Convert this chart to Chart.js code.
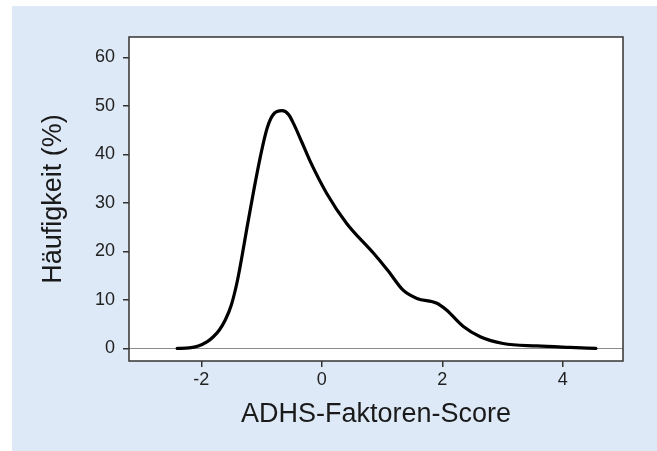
<!DOCTYPE html>
<html>
<head>
<meta charset="utf-8">
<script src="https://cdn.jsdelivr.net/npm/chart.js@4/dist/chart.umd.min.js"></script>
<style>
  html, body { margin: 0; padding: 0; background: #ffffff; }
  canvas { display: block; }
</style>
</head>
<body>
<canvas id="c" width="657" height="451"></canvas>
<script>
// ADHS-Faktoren-Score (x) and Häufigkeit in % (y)
const scoreValues = [-2.40, -2.20, -2.05, -1.90, -1.80, -1.70, -1.60, -1.50, -1.40, -1.32, -1.24, -1.13, -1.02, -0.91, -0.80, -0.66, -0.55, -0.47, -0.33, -0.19, 0.08, 0.41, 0.86, 1.10, 1.35, 1.58, 1.91, 2.07, 2.35, 2.63, 3.01, 3.57, 4.12, 4.55];
const frequencyValues = [0.0, 0.1, 0.5, 1.4, 2.4, 3.8, 5.9, 9.0, 14.0, 19.3, 25.0, 32.5, 39.5, 45.3, 48.3, 49.0, 48.2, 46.4, 42.5, 38.5, 32.0, 25.8, 19.6, 16.0, 12.0, 10.3, 9.3, 7.9, 4.5, 2.4, 1.0, 0.5, 0.2, 0.0];
const xTickValues = [-2, 0, 2, 4];
const yTickValues = [0, 10, 20, 30, 40, 50, 60];

const points = scoreValues.map((x, i) => ({ x: x, y: frequencyValues[i] }));

const FONT = "'Liberation Sans', Arial, Helvetica, sans-serif";

const framePlugin = {
  id: 'frame',
  beforeDraw(chart) {
    const ctx = chart.ctx;
    ctx.save();
    ctx.fillStyle = '#ffffff';
    ctx.fillRect(0, 0, chart.width, chart.height);
    ctx.fillStyle = '#dde9f7';
    ctx.fillRect(12, 6, chart.width - 12, chart.height - 6);
    const a = chart.chartArea;
    ctx.fillStyle = '#ffffff';
    ctx.fillRect(a.left, a.top, a.right - a.left, a.bottom - a.top);
    ctx.restore();
  },
  beforeDatasetsDraw(chart) {
    const ctx = chart.ctx;
    const a = chart.chartArea;
    const y0 = Math.round(chart.scales.y.getPixelForValue(0)) + 0.5;
    ctx.save();
    ctx.strokeStyle = '#8a8a8a';
    ctx.lineWidth = 1;
    ctx.beginPath();
    ctx.moveTo(a.left, y0);
    ctx.lineTo(a.right, y0);
    ctx.stroke();
    ctx.restore();
  },
  afterDraw(chart) {
    const ctx = chart.ctx;
    const a = chart.chartArea;
    ctx.save();
    ctx.strokeStyle = '#333333';
    ctx.lineWidth = 1.5;
    ctx.strokeRect(a.left, a.top, a.right - a.left, a.bottom - a.top);
    ctx.restore();
  }
};

new Chart(document.getElementById('c'), {
  type: 'line',
  data: {
    datasets: [{
      data: points,
      borderColor: '#000000',
      borderWidth: 3.2,
      borderCapStyle: 'round',
      borderJoinStyle: 'round',
      pointRadius: 0,
      fill: false,
      cubicInterpolationMode: 'monotone'
    }]
  },
  options: {
    responsive: false,
    animation: false,
    devicePixelRatio: 1,
    layout: { padding: { left: 12, top: 37, right: 34, bottom: 0 } },
    plugins: { legend: { display: false }, tooltip: { enabled: false } },
    scales: {
      x: {
        type: 'linear',
        min: -3.2,
        max: 5.0,
        afterBuildTicks(scale) { scale.ticks = xTickValues.map(v => ({ value: v })); },
        afterFit(scale) { scale.height = 90; },
        grid: { display: true, drawOnChartArea: false, drawTicks: true, tickLength: 6, color: '#333333', lineWidth: 1.5 },
        border: { display: false },
        ticks: { color: '#222222', font: { family: FONT, size: 18 }, padding: 2, maxRotation: 0 },
        title: { display: true, text: 'ADHS-Faktoren-Score', color: '#1a1a1a', font: { family: FONT, size: 27 }, padding: { top: 0, bottom: 20 } }
      },
      y: {
        type: 'linear',
        min: -2.6,
        max: 64.2,
        afterBuildTicks(scale) { scale.ticks = yTickValues.map(v => ({ value: v })); },
        afterFit(scale) { scale.width = 117; },
        grid: { display: true, drawOnChartArea: false, drawTicks: true, tickLength: 6, color: '#333333', lineWidth: 1.5 },
        border: { display: false },
        ticks: { color: '#222222', font: { family: FONT, size: 18 }, padding: 8 },
        title: { display: true, text: 'Häufigkeit (%)', color: '#1a1a1a', font: { family: FONT, size: 27 }, padding: { top: 25, bottom: 0 } }
      }
    }
  },
  plugins: [framePlugin]
});
</script>
</body>
</html>
